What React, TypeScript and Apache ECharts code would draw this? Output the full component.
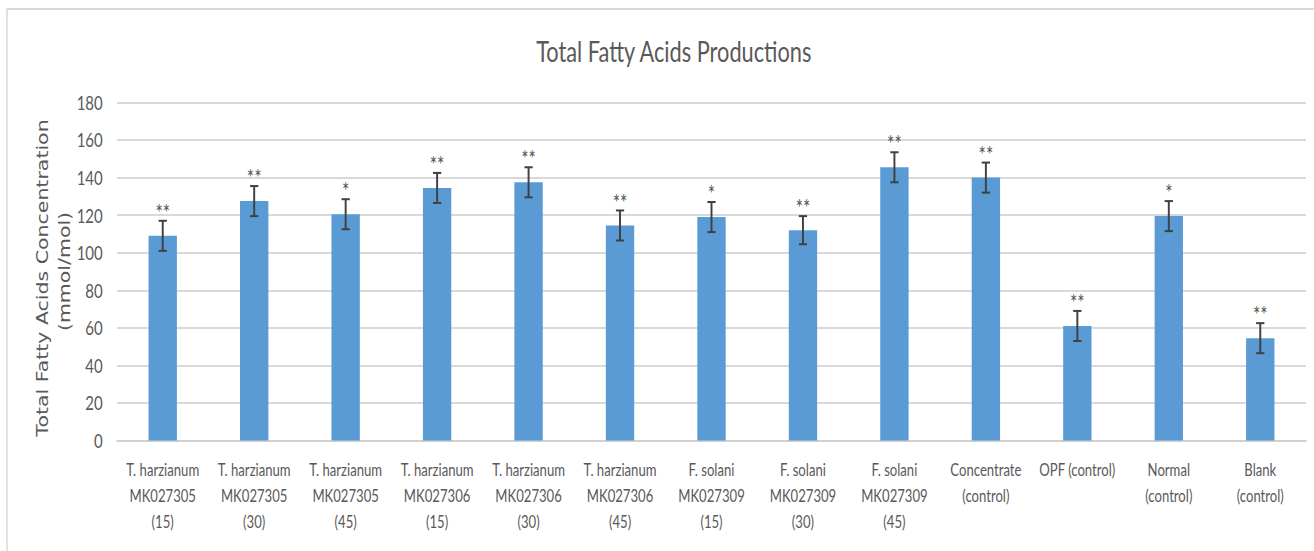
import React, { useEffect, useRef } from "react";
import * as echarts from "echarts";

const categories = [
  "T. harzianum\nMK027305\n(15)",
  "T. harzianum\nMK027305\n(30)",
  "T. harzianum\nMK027305\n(45)",
  "T. harzianum\nMK027306\n(15)",
  "T. harzianum\nMK027306\n(30)",
  "T. harzianum\nMK027306\n(45)",
  "F. solani\nMK027309\n(15)",
  "F. solani\nMK027309\n(30)",
  "F. solani\nMK027309\n(45)",
  "Concentrate\n(control)",
  "OPF (control)",
  "Normal\n(control)",
  "Blank\n(control)",
];
const values = [109, 127.5, 120.5, 134.5, 137.5, 114.5, 119, 112, 145.5, 140, 61, 119.5, 54.5];
const errors = [8, 8, 8, 8, 8, 8, 8, 7.5, 8, 8, 8, 8, 8];
const significance = ["**", "**", "*", "**", "**", "**", "*", "**", "**", "**", "**", "*", "**"];
const yTicks = { min: 0, max: 180, interval: 20 };
const titleText = "Total Fatty Acids Productions";
const yNameLines = ["Total Fatty Acids Concentration", "(mmol/mol)"];

const W = 1314;
const H = 551;
const SX = 0.75;
const IW = W / SX;

export default function App() {
  const ref = useRef<HTMLDivElement>(null);
  useEffect(() => {
    document.body.style.margin = "0";
    if (!ref.current) return;
    const chart = echarts.init(ref.current, undefined, { renderer: "svg", width: IW, height: H });
    const font = "Lato, 'Open Sans', sans-serif";
    const gray = "#595959";
    chart.setOption({
      animation: false,
      backgroundColor: "#ffffff",
      title: {
        text: titleText,
        left: 670 / SX,
        top: 31,
        textAlign: "center",
        textStyle: { fontFamily: font, fontSize: 29, fontWeight: "normal", color: gray },
      },
      grid: { left: 117 / SX, right: IW - 1306 / SX, top: 102.5, bottom: H - 440.5 },
      xAxis: {
        type: "category",
        data: categories,
        axisTick: { show: false },
        axisLine: { lineStyle: { color: "#d0d0d0", width: 2 } },
        axisLabel: {
          interval: 0,
          color: gray,
          fontFamily: font,
          fontSize: 17.5,
          lineHeight: 26,
          margin: 16,
        },
      },
      yAxis: {
        type: "value",
        min: yTicks.min,
        max: yTicks.max,
        interval: yTicks.interval,
        axisLine: { show: false },
        axisTick: { show: false },
        splitLine: { lineStyle: { color: "#d9d9d9", width: 2 } },
        axisLabel: { color: gray, fontFamily: font, fontSize: 20, margin: 19 },
      },
      graphic: [
        {
          type: "rect",
          shape: { x: 7 / SX, y: 9, width: 3000, height: 2000 },
          style: { fill: "none", stroke: "#d9d9d9", lineWidth: 2 },
          silent: true,
          z: -10,
        },
        {
          type: "text",
          x: 42.5 / SX,
          y: 278,
          rotation: Math.PI / 2,
          style: {
            text: yNameLines[0],
            align: "center",
            verticalAlign: "middle",
            fill: gray,
            fontFamily: "'DejaVu Sans', sans-serif",
            fontSize: 20.5,
          },
        },
        {
          type: "text",
          x: 64.5 / SX,
          y: 271.5,
          rotation: Math.PI / 2,
          style: {
            text: yNameLines[1],
            align: "center",
            verticalAlign: "middle",
            fill: gray,
            fontFamily: "'DejaVu Sans', sans-serif",
            fontSize: 20.5,
          },
        },
      ],
      series: [
        {
          type: "bar",
          data: values,
          barWidth: "31%",
          itemStyle: { color: "#5b9bd5" },
        },
        {
          type: "custom",
          z: 5,
          data: values.map((v, i) => [i, v - errors[i], v + errors[i]]),
          encode: { x: 0, y: [1, 2] },
          renderItem: (params: any, api: any) => {
            const idx = api.value(0);
            const top = api.coord([idx, api.value(2)]);
            const bot = api.coord([idx, api.value(1)]);
            const hw = 5.5;
            const c = "#404040";
            return {
              type: "group",
              children: [
                { type: "line", shape: { x1: top[0], y1: top[1], x2: bot[0], y2: bot[1] }, style: { stroke: c, lineWidth: 2.6 } },
                { type: "line", shape: { x1: top[0] - hw, y1: top[1], x2: top[0] + hw, y2: top[1] }, style: { stroke: c, lineWidth: 2 } },
                { type: "line", shape: { x1: bot[0] - hw, y1: bot[1], x2: bot[0] + hw, y2: bot[1] }, style: { stroke: c, lineWidth: 2 } },
                {
                  type: "text",
                  style: {
                    text: significance[params.dataIndex],
                    x: top[0],
                    y: top[1] - 9,
                    align: "center",
                    verticalAlign: "middle",
                    fill: gray,
                    fontFamily: font,
                    fontSize: 23,
                  },
                },
              ],
            };
          },
        },
      ],
    });
    return () => chart.dispose();
  }, []);
  return (
    <div style={{ width: W, height: H, overflow: "hidden", position: "relative" }}>
      <div
        ref={ref}
        style={{ width: IW, height: H, transform: `scaleX(${SX})`, transformOrigin: "0 0" }}
      />
    </div>
  );
}
